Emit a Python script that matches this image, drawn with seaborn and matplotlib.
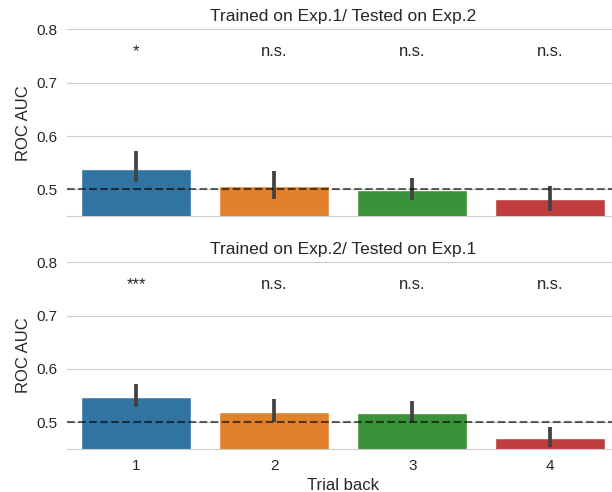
import numpy as np
import pandas as pd
import matplotlib
matplotlib.use("Agg")
import matplotlib.pyplot as plt
import seaborn as sns

sns.set_style("whitegrid")
plt.rcParams['font.family'] = ['Liberation Sans', 'DejaVu Sans']

# Trial back categories
trials = [1, 2, 3, 4]

# Trained on Exp.1 / Tested on Exp.2
auc_12 = [0.538, 0.506, 0.499, 0.482]
lo_12 = [0.514, 0.483, 0.480, 0.459]
hi_12 = [0.572, 0.534, 0.521, 0.507]
sig_12 = ["*", "n.s.", "n.s.", "n.s."]

# Trained on Exp.2 / Tested on Exp.1
auc_21 = [0.548, 0.520, 0.518, 0.471]
lo_21 = [0.529, 0.501, 0.500, 0.453]
hi_21 = [0.572, 0.544, 0.540, 0.491]
sig_21 = ["***", "n.s.", "n.s.", "n.s."]

titles = ["Trained on Exp.1/ Tested on Exp.2", "Trained on Exp.2/ Tested on Exp.1"]
panels = [(auc_12, lo_12, hi_12, sig_12), (auc_21, lo_21, hi_21, sig_21)]

fig, axes = plt.subplots(2, 1, figsize=(6.12, 4.92), dpi=100, sharex=True)
# the right edge of the axes runs slightly past the figure, as in the original crop
fig.subplots_adjust(left=0.1098, right=1.0118, top=0.9404, bottom=0.0874, hspace=0.246)

for ax, title, (auc, lo, hi, sig) in zip(axes, titles, panels):
    df = pd.DataFrame({"Trial back": trials, "ROC AUC": auc})
    sns.barplot(data=df, x="Trial back", y="ROC AUC", hue="Trial back",
                palette="tab10", legend=False, errorbar=None, ax=ax)
    pos = np.arange(len(trials))
    ax.vlines(pos, lo, hi, color=".26", linewidth=2.7, zorder=3)
    ax.axhline(0.5, color="black", alpha=0.6, linestyle="--", linewidth=1.5, zorder=4)
    for p, s in zip(pos, sig):
        ax.text(p, 0.75, s, ha="center", va="baseline", fontsize=12, color=".15")
    ax.set_ylim(0.45, 0.8)
    ax.set_yticks([0.5, 0.6, 0.7, 0.8])
    ax.set_yticklabels(["0.5", "0.6", "0.7", "0.8"])
    ax.set_xlim(-0.5, 3.5)
    ax.set_title(title, fontsize=12.5)
    ax.set_ylabel("ROC AUC", fontsize=12)
    ax.tick_params(labelsize=11)
    sns.despine(ax=ax, left=True)

axes[0].set_xlabel("")
axes[0].tick_params(axis="x", length=0)
axes[1].set_xlabel("Trial back", fontsize=12)

fig.savefig("out.png", dpi=100)
